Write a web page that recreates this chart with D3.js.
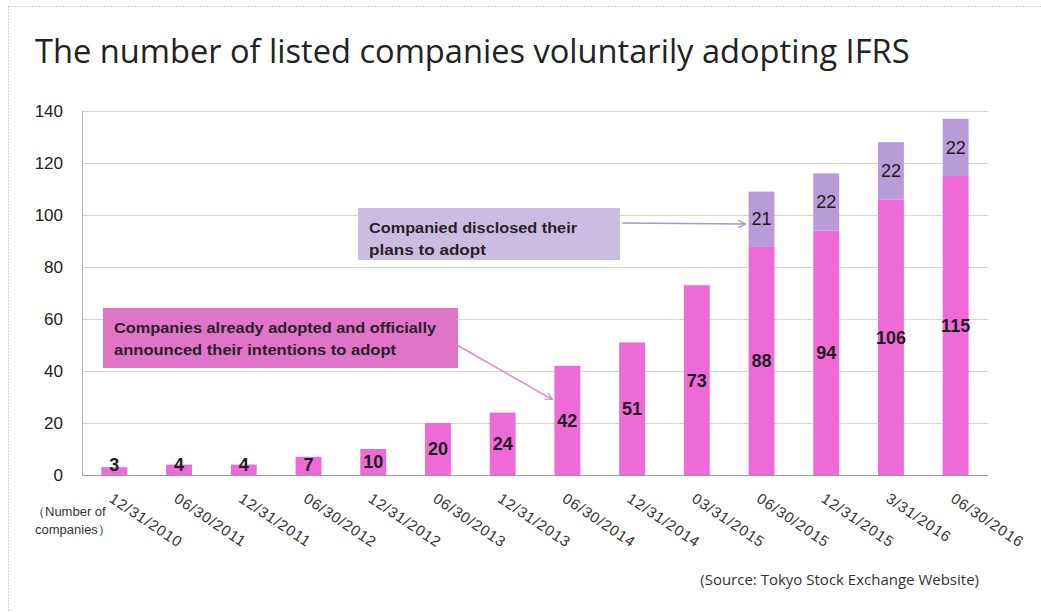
<!DOCTYPE html>
<html lang="en">
<head>
    <meta charset="UTF-8">
    <title>Listed companies voluntarily adopting IFRS</title>
    <style>
        body { margin: 0; background: #fff; }
        .grid line { stroke: #d6d6c8; stroke-width: 1px; }
        .ytick text { font-family: "Liberation Sans", Arial, sans-serif; font-size: 17px; fill: #222; }
        .xtick text { font-family: "Liberation Sans", Arial, sans-serif; font-size: 15px; fill: #333; letter-spacing: 0.9px; }
        .val { font-family: "Liberation Sans", Arial, sans-serif; font-size: 18px; fill: #221a22; }
        .note text { font-family: "Liberation Sans", Arial, sans-serif; font-size: 14px; font-weight: bold; fill: #2a1f2a; }
    </style>
    <script src="https://d3js.org/d3.v7.min.js"></script>
</head>
<body>
    <script>
        // data
        const dates = ["12/31/2010", "06/30/2011", "12/31/2011", "06/30/2012", "12/31/2012", "06/30/2013",
            "12/31/2013", "06/30/2014", "12/31/2014", "03/31/2015", "06/30/2015", "12/31/2015", "3/31/2016", "06/30/2016"];
        const adopted = [3, 4, 4, 7, 10, 20, 24, 42, 51, 73, 88, 94, 106, 115];
        const planned = [0, 0, 0, 0, 0, 0, 0, 0, 0, 0, 21, 22, 22, 22];
        const yTicks = [0, 20, 40, 60, 80, 100, 120, 140];

        const W = 1041, H = 612;
        const svg = d3.select("body").append("svg")
            .attr("width", W).attr("height", H);

        // faint frame on top and left
        svg.append("line").attr("x1", 8).attr("x2", W).attr("y1", 6.5).attr("y2", 6.5)
            .attr("stroke", "#cfcfcf").attr("stroke-dasharray", "2,1");
        svg.append("line").attr("x1", 8.5).attr("x2", 8.5).attr("y1", 6).attr("y2", H)
            .attr("stroke", "#cfcfcf").attr("stroke-dasharray", "2,1");

        // title, fitted to its width in the picture
        const title = svg.append("text")
            .attr("x", 35).attr("y", 63)
            .style("font-family", "'Open Sans', 'Noto Sans', sans-serif")
            .style("font-size", "30px").style("fill", "#222")
            .text("The number of listed companies voluntarily adopting IFRS");
        const tw = title.node().getComputedTextLength();
        title.style("font-size", (30 * 875 / tw) + "px");

        const x = d3.scaleBand().domain(dates).range([82, 988]).paddingInner(0.6).paddingOuter(0.3);
        const y = d3.scaleLinear().domain([0, 140]).range([475, 111]);

        // gridlines
        svg.append("g").attr("class", "grid")
            .selectAll("line").data(yTicks.filter(d => d > 0)).enter().append("line")
            .attr("x1", 82).attr("x2", 988)
            .attr("y1", d => Math.round(y(d)) + 0.5).attr("y2", d => Math.round(y(d)) + 0.5);

        // y labels
        svg.append("g").attr("class", "ytick")
            .selectAll("text").data(yTicks).enter().append("text")
            .attr("x", 63).attr("y", d => y(d)).attr("dy", "0.36em")
            .attr("text-anchor", "end").text(d => d);

        // axes lines
        svg.append("line").attr("x1", 82.5).attr("x2", 82.5).attr("y1", y(140)).attr("y2", y(0))
            .attr("stroke", "#b4b4b4");

        // stacked bars
        const bars = svg.append("g");
        bars.selectAll("rect.a").data(dates).enter().append("rect")
            .attr("x", d => x(d)).attr("width", x.bandwidth())
            .attr("y", (d, i) => y(adopted[i]))
            .attr("height", (d, i) => y(0) - y(adopted[i]))
            .attr("fill", "#ee6bd7");
        bars.selectAll("rect.p").data(dates.filter((d, i) => planned[i] > 0)).enter().append("rect")
            .attr("x", d => x(d)).attr("width", x.bandwidth())
            .attr("y", d => { const i = dates.indexOf(d); return y(Math.min(140, adopted[i] + planned[i])); })
            .attr("height", d => { const i = dates.indexOf(d); return y(adopted[i]) - y(Math.min(140, adopted[i] + planned[i])); })
            .attr("fill", "#b99bd8");

        svg.append("line").attr("x1", 82).attr("x2", 988).attr("y1", y(0) + 0.5).attr("y2", y(0) + 0.5)
            .attr("stroke", "#999");

        // value labels
        svg.append("g").selectAll("text").data(dates).enter().append("text")
            .attr("class", "val").attr("font-weight", "bold")
            .attr("x", d => x(d) + x.bandwidth() / 2)
            .attr("y", (d, i) => Math.min(y(adopted[i] / 2), y(0) - 10))
            .attr("dy", "0.36em").attr("text-anchor", "middle")
            .text((d, i) => adopted[i]);
        svg.append("g").selectAll("text").data(dates.filter((d, i) => planned[i] > 0)).enter().append("text")
            .attr("class", "val")
            .attr("x", d => x(d) + x.bandwidth() / 2)
            .attr("y", d => { const i = dates.indexOf(d); return y(adopted[i] + planned[i] / 2); })
            .attr("dy", "0.36em").attr("text-anchor", "middle")
            .text(d => planned[dates.indexOf(d)]);

        // rotated date labels
        svg.append("g").attr("class", "xtick")
            .selectAll("text").data(dates).enter().append("text")
            .attr("transform", d => `translate(${x(d) + x.bandwidth() / 2 - 6},${501}) rotate(34)`)
            .text(d => d);

        // unit note
        const unit = svg.append("text")
            .style("font-family", "'Liberation Sans', Arial, sans-serif")
            .style("font-size", "13px").style("fill", "#333");
        unit.append("tspan").attr("x", 32).attr("y", 516).text("（Number of");
        unit.append("tspan").attr("x", 35).attr("y", 534).text("companies）");

        // source
        svg.append("text").attr("x", 979).attr("y", 585).attr("text-anchor", "end")
            .style("font-family", "'Open Sans', 'Noto Sans', sans-serif")
            .style("font-size", "15px").style("fill", "#333")
            .text("(Source: Tokyo Stock Exchange Website)");

        // arrow markers
        const defs = svg.append("defs");
        [["arrP", "#e58ac8"], ["arrV", "#a39ac8"]].forEach(([id, c]) => {
            defs.append("marker").attr("id", id).attr("viewBox", "0 0 10 10")
                .attr("refX", 9).attr("refY", 5).attr("markerWidth", 9).attr("markerHeight", 9)
                .attr("orient", "auto").attr("markerUnits", "userSpaceOnUse")
                .append("path").attr("d", "M1,1 L9,5 L1,9").attr("fill", "none")
                .attr("stroke", c).attr("stroke-width", 1.5);
        });

        // callouts
        function note(bx, by, bw, bh, fill, lines, lens) {
            const g = svg.append("g").attr("class", "note");
            g.append("rect").attr("x", bx).attr("y", by).attr("width", bw).attr("height", bh).attr("fill", fill);
            lines.forEach((t, k) => {
                g.append("text").attr("x", bx + 11).attr("y", by + 25 + k * 22)
                    .attr("textLength", lens[k]).attr("lengthAdjust", "spacingAndGlyphs").text(t);
            });
        }
        note(358, 208, 262, 52, "#cbbde2", ["Companied disclosed their", "plans to adopt"], [208, 117]);
        note(103, 308, 355, 60, "#e074c6", ["Companies already adopted and officially", "announced their intentions to adopt"], [322, 282]);

        svg.append("line").attr("x1", 622).attr("y1", 223).attr("x2", x(dates[10]) - 3).attr("y2", y(96.5))
            .attr("stroke", "#a39ac8").attr("stroke-width", 1.5).attr("marker-end", "url(#arrV)");
        svg.append("line").attr("x1", 457).attr("y1", 345).attr("x2", x(dates[7]) - 2).attr("y2", y(29))
            .attr("stroke", "#e58ac8").attr("stroke-width", 1.5).attr("marker-end", "url(#arrP)");
    </script>
</body>
</html>
